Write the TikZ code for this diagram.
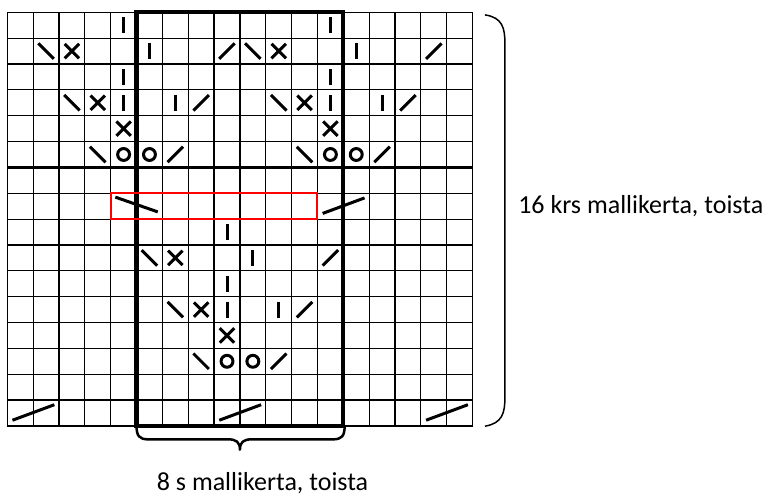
\documentclass[tikz,border=0pt]{standalone}
\usepackage{fontspec}
\setmainfont{Carlito}
\begin{document}
\begin{tikzpicture}[x=25.85pt, y=-25.85pt,
  every node/.style={font=\fontsize{26}{31}\selectfont, inner sep=0pt},
  cellgrid/.style={line width=1.2pt},
  repeatbox/.style={line width=4.3pt},
  stitch/.style={line width=3pt},
  hilite/.style={draw=red, line width=2pt}]
\useasboundingbox (-0.282,-0.476) rectangle (29.66,18.75);
\foreach \i in {0,...,18} \draw[cellgrid] (\i,0) -- (\i,16);
\foreach \j in {0,...,16} \draw[cellgrid] (0,\j) -- (18,\j);
\draw[line width=3.3pt] (0,6) -- (18,6);
\draw[line width=2.3pt] (8,0) -- (8,16);
\draw[repeatbox] (5,0) rectangle (13,16);
% stitches: knit, cross, yarn over, decreases
\foreach \c/\r in {4/0,12/0,5/1,13/1,4/2,12/2,4/3,6/3,12/3,14/3,8/8,9/9,8/10,8/11,10/11}
  \draw[stitch] (\c+0.5,\r+0.19) -- (\c+0.5,\r+0.81);
\foreach \c/\r in {2/1,10/1,3/3,11/3,4/4,12/4,6/9,7/11,8/12}
  \draw[stitch] (\c+0.22,\r+0.22) -- (\c+0.78,\r+0.78) (\c+0.22,\r+0.78) -- (\c+0.78,\r+0.22);
\foreach \c/\r in {4/5,5/5,12/5,13/5,8/13,9/13}
  \draw[stitch] (\c+0.5,\r+0.5) circle (0.23);
\foreach \c/\r in {1/1,9/1,2/3,10/3,3/5,11/5,5/9,6/11,7/13}
  \draw[stitch] (\c+0.2,\r+0.2) -- (\c+0.8,\r+0.8);
\foreach \c/\r in {8/1,16/1,7/3,15/3,6/5,14/5,12/9,11/11,10/13}
  \draw[stitch] (\c+0.2,\r+0.8) -- (\c+0.8,\r+0.2);
% two-stitch cables
\draw[stitch] (4.18,7.15) -- (5.82,7.72);
\foreach \c/\r in {12/7,0/15,8/15,16/15}
  \draw[stitch] (\c+0.2,\r+0.78) -- (\c+1.82,\r+0.18);
\draw[hilite] (4,7) rectangle (12,8);
% braces
\draw[line width=1.5pt] (18.48,0.1) .. controls (19.15,0.2) and (19.25,0.6) .. (19.25,1.2) -- (19.25,14.9) .. controls (19.25,15.5) and (19.15,15.9) .. (18.48,16.01);
\draw[line width=2.5pt, line join=round] (5,16) .. controls (5,16.38) and (5.1,16.52) .. (5.45,16.52) -- (8.55,16.52) .. controls (8.85,16.52) and (9,16.62) .. (9,16.92) .. controls (9,16.62) and (9.15,16.52) .. (9.45,16.52) -- (12.6,16.52) .. controls (12.95,16.52) and (13.05,16.38) .. (13.05,16);
\node[anchor=base west] (rowrep) at (19.76,7.8) {16 krs mallikerta, toista};
\node[anchor=base west] (strep) at (5.78,18.48) {8 s mallikerta, toista};
\end{tikzpicture}
\end{document}
